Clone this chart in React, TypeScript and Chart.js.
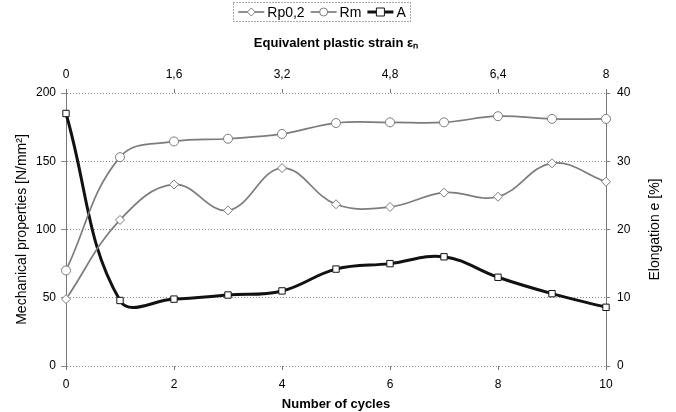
import { useEffect, useRef } from "react";
import { Chart, registerables } from "chart.js";

Chart.register(...registerables);

const cycles = [0, 1, 2, 3, 4, 5, 6, 7, 8, 9, 10];
const rp02 = [49, 107, 133, 114, 145, 118.5, 116.5, 127, 124, 148.5, 135];
const rm = [70, 153, 164.5, 166.5, 170, 178, 178.5, 178.5, 183, 181, 181];
const elongation = [37, 9.6, 9.8, 10.4, 11, 14.2, 15, 16, 13, 10.6, 8.6];
const seriesNames = ["Rp0,2", "Rm", "A"];
const cycleTicks = [0, 2, 4, 6, 8, 10];
const strainTicks = [0, 1.6, 3.2, 4.8, 6.4, 8];
const mechTicks = [0, 50, 100, 150, 200];
const elongTicks = [0, 10, 20, 30, 40];

const FONT = '"Liberation Sans", Arial, sans-serif';

function drawMarker(ctx: CanvasRenderingContext2D, style: string, x: number, y: number, r: number) {
  ctx.beginPath();
  if (style === "circle") {
    ctx.arc(x, y, r, 0, Math.PI * 2);
  } else if (style === "rect") {
    ctx.rect(x - r, y - r, 2 * r, 2 * r);
  } else {
    ctx.moveTo(x, y - r);
    ctx.lineTo(x + r, y);
    ctx.lineTo(x, y + r);
    ctx.lineTo(x - r, y);
    ctx.closePath();
  }
  ctx.fillStyle = "#fff";
  ctx.fill();
  ctx.stroke();
}

const extrasPlugin = {
  id: "extras",
  afterDraw(chart: any) {
    const ctx: CanvasRenderingContext2D = chart.ctx;
    ctx.save();
    ctx.font = `14px ${FONT}`;
    ctx.textBaseline = "middle";
    const sample = 26;
    const gap = 3;
    const itemGap = 6;
    const items = chart.data.datasets.map((ds: any) => ({
      label: ds.label,
      color: ds.borderColor,
      width: ds.borderWidth,
      style: ds.pointStyle,
      w: ctx.measureText(ds.label).width,
    }));
    let total = 0;
    items.forEach((it: any, i: number) => {
      total += sample + gap + it.w + (i < items.length - 1 ? itemGap : 0);
    });
    const cx = 322;
    const y = 12;
    let x = cx - total / 2;
    ctx.setLineDash([1, 2]);
    ctx.strokeStyle = "#555";
    ctx.lineWidth = 1;
    ctx.strokeRect(Math.round(x - 5) + 0.5, 2.5, Math.round(total + 10), 19);
    ctx.setLineDash([]);
    items.forEach((it: any) => {
      ctx.strokeStyle = it.color;
      ctx.lineWidth = it.width;
      ctx.beginPath();
      ctx.moveTo(x, y);
      ctx.lineTo(x + sample, y);
      ctx.stroke();
      ctx.lineWidth = 1;
      drawMarker(ctx, it.style, x + sample / 2, y, 4);
      ctx.fillStyle = "#000";
      ctx.textAlign = "left";
      ctx.fillText(it.label, x + sample + gap, y + 1);
      x += sample + gap + it.w + itemGap;
    });

    // right axis title, reading upwards
    const area = chart.chartArea;
    ctx.save();
    ctx.translate(655, (area.top + area.bottom) / 2);
    ctx.rotate(-Math.PI / 2);
    ctx.textAlign = "center";
    ctx.fillStyle = "#000";
    ctx.font = `14px ${FONT}`;
    ctx.fillText("Elongation e [%]", 0, 0);
    ctx.restore();
    ctx.restore();
  },
};

export default function App() {
  const ref = useRef<HTMLCanvasElement | null>(null);

  useEffect(() => {
    document.body.style.margin = "0";
    const canvas = ref.current;
    if (!canvas) return;
    const gray = "#7c7c7c";
    const chart = new Chart(canvas, {
      type: "line",
      data: {
        labels: cycles,
        datasets: [
          {
            label: seriesNames[0],
            data: cycles.map((c, i) => ({ x: c, y: rp02[i] })),
            borderColor: gray,
            borderWidth: 1.7,
            pointStyle: "rectRot",
            pointRadius: 4.5,
            pointBackgroundColor: "#fff",
            pointBorderColor: gray,
            pointBorderWidth: 1,
            tension: 0.4,
            clip: false,
            xAxisID: "x",
            yAxisID: "y",
          },
          {
            label: seriesNames[1],
            data: cycles.map((c, i) => ({ x: c, y: rm[i] })),
            borderColor: gray,
            borderWidth: 1.7,
            pointStyle: "circle",
            pointRadius: 4.5,
            pointBackgroundColor: "#fff",
            pointBorderColor: gray,
            pointBorderWidth: 1,
            tension: 0.4,
            clip: false,
            xAxisID: "x",
            yAxisID: "y",
          },
          {
            label: seriesNames[2],
            data: cycles.map((c, i) => ({ x: c, y: elongation[i] })),
            borderColor: "#111",
            borderWidth: 3,
            pointStyle: "rect",
            pointRadius: 4.5,
            pointBackgroundColor: "#fff",
            pointBorderColor: "#111",
            pointBorderWidth: 1,
            tension: 0.4,
            clip: false,
            xAxisID: "x",
            yAxisID: "y2",
          },
        ],
      },
      plugins: [extrasPlugin],
      options: {
        responsive: false,
        animation: false,
        devicePixelRatio: 1,
        layout: { padding: 0 },
        plugins: { legend: { display: false }, tooltip: { enabled: false } },
        scales: {
          x: {
            type: "linear",
            position: "bottom",
            min: 0,
            max: 10,
            afterBuildTicks: (s: any) => {
              s.ticks = cycleTicks.map((v) => ({ value: v }));
            },
            afterFit: (s: any) => {
              s.height = 46;
            },
            ticks: { color: "#000", font: { family: FONT, size: 12 }, padding: 7, maxRotation: 0 },
            grid: { drawOnChartArea: false, tickLength: 4, color: "#777" },
            border: { display: false },
            title: {
              display: true,
              text: "Number of cycles",
              color: "#000",
              font: { family: FONT, size: 13, weight: "bold" },
              padding: { top: 0, bottom: 0 },
            },
          },
          xTop: {
            type: "linear",
            position: "top",
            min: 0,
            max: 8,
            afterBuildTicks: (s: any) => {
              s.ticks = strainTicks.map((v) => ({ value: v }));
            },
            afterFit: (s: any) => {
              s.height = 93;
            },
            ticks: {
              color: "#000",
              font: { family: FONT, size: 12 },
              padding: 7,
              maxRotation: 0,
              callback: (v: any) => String(Number(v).toFixed(1)).replace(/\.0$/, "").replace(".", ","),
            },
            grid: { drawOnChartArea: false, tickLength: 4, color: "#777" },
            border: { display: false },
            title: {
              display: true,
              text: "Equivalent plastic strain \u03b5\u2099",
              color: "#000",
              font: { family: FONT, size: 13, weight: "bold" },
              padding: { top: 36, bottom: 0 },
            },
          },
          y: {
            type: "linear",
            position: "left",
            min: 0,
            max: 200,
            afterBuildTicks: (s: any) => {
              s.ticks = mechTicks.map((v) => ({ value: v }));
            },
            afterFit: (s: any) => {
              s.width = 66;
            },
            ticks: { color: "#000", font: { family: FONT, size: 12 }, padding: 5 },
            grid: { color: "#8a8a8a", lineWidth: 1, tickLength: 5 },
            border: { display: true, color: "#777", dash: [1, 2] },
            title: {
              display: true,
              text: "Mechanical properties [N/mm\u00b2]",
              color: "#000",
              font: { family: FONT, size: 14 },
              padding: { top: 14, bottom: 0 },
            },
          },
          y2: {
            type: "linear",
            position: "right",
            min: 0,
            max: 40,
            afterBuildTicks: (s: any) => {
              s.ticks = elongTicks.map((v) => ({ value: v }));
            },
            afterFit: (s: any) => {
              s.width = 70;
            },
            ticks: { color: "#000", font: { family: FONT, size: 12 }, padding: 7 },
            grid: { drawOnChartArea: false, tickLength: 4, color: "#777" },
            border: { display: true, color: "#777", dash: [1, 2] },
            title: { display: false },
          },
        },
      },
    } as any);
    return () => chart.destroy();
  }, []);

  return (
    <div style={{ width: 676, height: 412 }}>
      <canvas ref={ref} width={676} height={412} />
    </div>
  );
}
